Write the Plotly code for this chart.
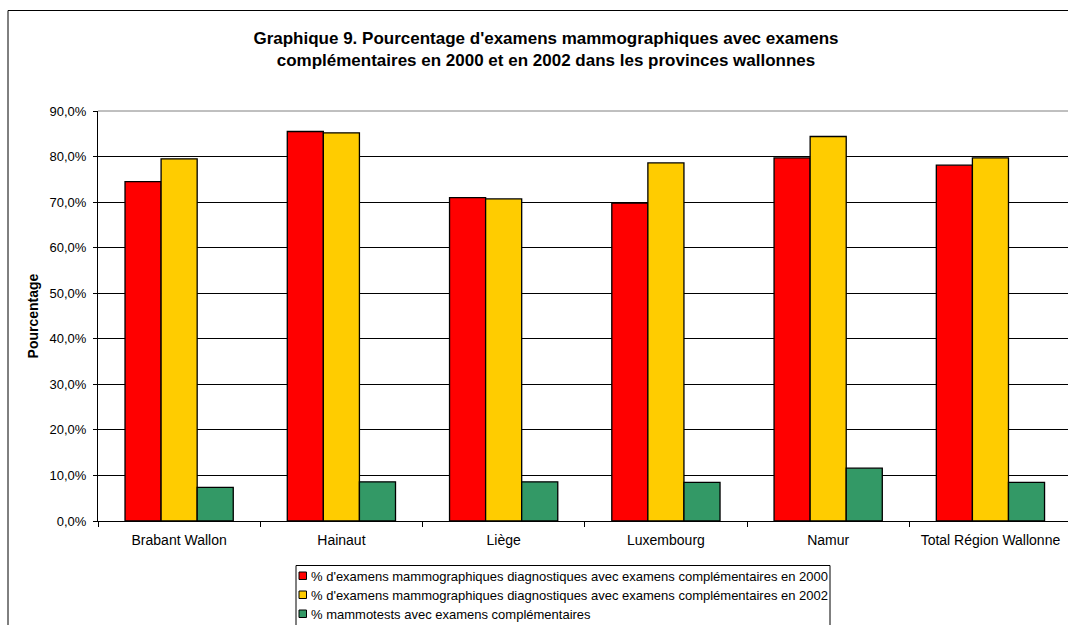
import plotly.graph_objects as go

# Provinces wallonnes
categories = ["Brabant Wallon", "Hainaut", "Liège", "Luxembourg", "Namur", "Total Région Wallonne"]

# Pourcentages (fraction) par série
diag_2000 = [0.745, 0.855, 0.710, 0.698, 0.797, 0.781]
diag_2002 = [0.795, 0.852, 0.707, 0.786, 0.844, 0.797]
mammotests = [0.074, 0.086, 0.086, 0.085, 0.116, 0.085]

series_names = [
    "% d'examens mammographiques diagnostiques avec examens complémentaires en 2000",
    "% d'examens mammographiques diagnostiques avec examens complémentaires en 2002",
    "% mammotests avec examens complémentaires",
]
series_colors = ["#FF0000", "#FFCC00", "#339966"]

y_tick_values = [0.0, 0.1, 0.2, 0.3, 0.4, 0.5, 0.6, 0.7, 0.8, 0.9]
y_tick_labels = ["0,0%", "10,0%", "20,0%", "30,0%", "40,0%", "50,0%",
                 "60,0%", "70,0%", "80,0%", "90,0%"]

title_text = ("Graphique 9. Pourcentage d'examens mammographiques avec examens<br>"
              "complémentaires en 2000 et en 2002 dans les provinces wallonnes")

FONT = "Liberation Sans, Arial, sans-serif"

fig = go.Figure()
for name, vals, col in zip(series_names, [diag_2000, diag_2002, mammotests], series_colors):
    fig.add_trace(go.Bar(
        x=categories, y=vals, name=name,
        marker=dict(color=col, line=dict(color="#000000", width=1.3)),
    ))

W, H = 1068, 625
ML, MR, MT, MB = 98, 0, 111, 104
pw = W - ML - MR
ph = H - MT - MB


def px_x(p):
    return (p - ML) / pw


def px_y(p):
    return (H - MB - p) / ph


shapes = [
    # plot area top edge
    dict(type="line", xref="paper", yref="paper", x0=0, x1=1, y0=1, y1=1,
         line=dict(color="#808080", width=1)),
    # chart frame
    dict(type="rect", xref="paper", yref="paper",
         x0=px_x(8), x1=1.05, y0=-0.5, y1=px_y(10.5),
         line=dict(color="#000000", width=1), layer="below"),
    # legend frame
    dict(type="rect", xref="paper", yref="paper",
         x0=px_x(296), x1=px_x(830), y0=px_y(640), y1=px_y(565.5),
         line=dict(color="#000000", width=1), fillcolor="white", layer="above"),
]
annotations = []

# legend entries: small colour key + label
row_y = [576, 595, 614]
for name, col, ry in zip(series_names, series_colors, row_y):
    shapes.append(dict(
        type="rect", xref="paper", yref="paper",
        x0=px_x(299), x1=px_x(306.5), y0=px_y(ry + 3.5), y1=px_y(ry - 4),
        line=dict(color="#000000", width=1), fillcolor=col, layer="above",
    ))
    annotations.append(dict(
        text=name, xref="paper", yref="paper", x=px_x(309), y=px_y(ry),
        xanchor="left", yanchor="middle", showarrow=False,
        font=dict(family=FONT, size=13, color="#000000"),
    ))

fig.update_layout(
    width=W, height=H,
    margin=dict(l=ML, r=MR, t=MT, b=MB, pad=0),
    paper_bgcolor="white", plot_bgcolor="white",
    font=dict(family=FONT, size=13, color="#000000"),
    barmode="group", bargap=0.333, bargroupgap=0,
    title=dict(
        text=title_text, xref="container", x=546 / W, xanchor="center",
        yref="container", y=1 - 43.5 / H, yanchor="middle",
        font=dict(family=FONT, size=17, color="#000000", weight="bold"),
    ),
    showlegend=False,
    xaxis=dict(
        type="category", range=[-0.5, 5.478],
        showline=True, linecolor="#000000", linewidth=1,
        ticks="outside", tickson="boundaries", ticklen=5, tickcolor="#000000",
        showgrid=False, ticklabelstandoff=6,
        tickfont=dict(family=FONT, size=14, color="#000000"),
    ),
    yaxis=dict(
        range=[0, 0.9], tickvals=y_tick_values, ticktext=y_tick_labels,
        showline=True, linecolor="#000000", linewidth=1,
        ticks="outside", ticklen=4, tickcolor="#000000",
        showgrid=True, gridcolor="#000000", gridwidth=1,
        zeroline=False, ticklabelstandoff=4,
        tickfont=dict(family=FONT, size=13, color="#000000"),
        title=dict(text="Pourcentage", standoff=7,
                   font=dict(family=FONT, size=14, color="#000000", weight="bold")),
    ),
    shapes=shapes,
    annotations=annotations,
)

fig.write_html("out.html")
